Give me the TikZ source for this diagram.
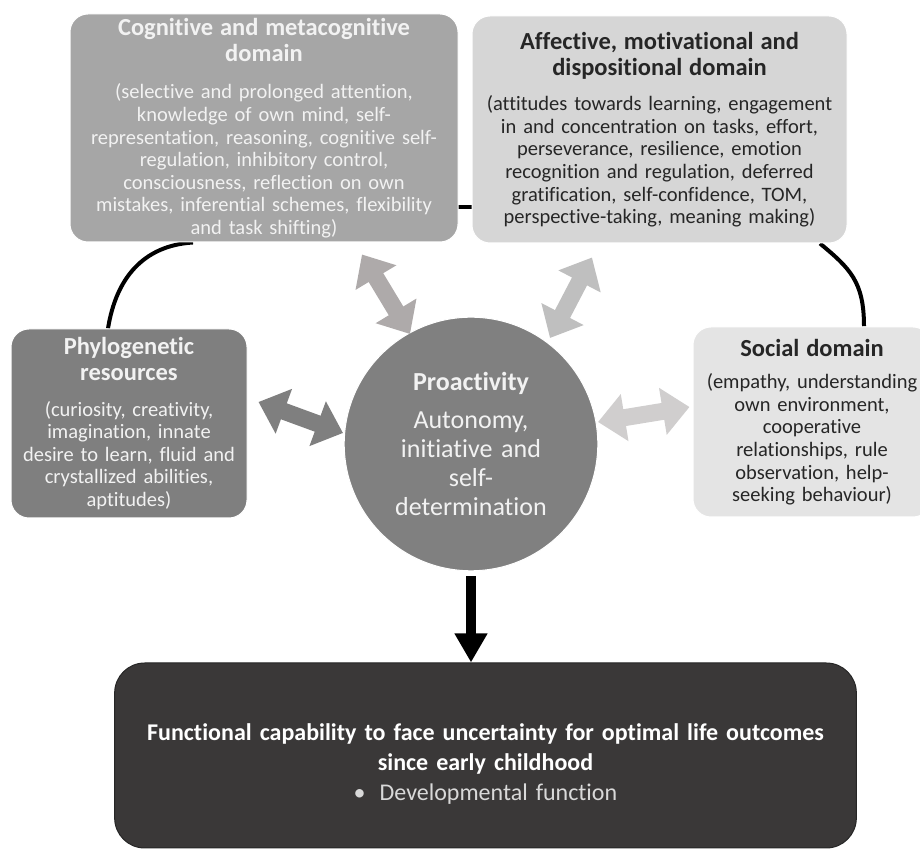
\documentclass[tikz,border=0pt]{standalone}
\usepackage{fontspec}
\setmainfont{Carlito}[Ligatures=NoCommon]
\usetikzlibrary{arrows.meta,calc,backgrounds}

\definecolor{cogfill}{HTML}{A6A6A6}
\definecolor{afffill}{HTML}{D6D6D6}
\definecolor{phylofill}{HTML}{7F7F7F}
\definecolor{socialfill}{HTML}{E4E4E4}
\definecolor{profill}{HTML}{808080}
\definecolor{outfill}{HTML}{3A3838}
\definecolor{arrowA}{HTML}{7F7F7F}
\definecolor{arrowB}{HTML}{AEAAAA}
\definecolor{arrowC}{HTML}{BFBFBF}
\definecolor{arrowD}{HTML}{D0CECE}

\newcommand{\hd}[2][13pt]{{\fontsize{24.5}{26}\selectfont\bfseries #2\par}\vspace{#1}}

\tikzset{
  domainbox/.style={rounded corners=18pt, draw=white, line width=1pt, align=center,
    inner sep=3pt, font=\fontsize{20.5}{22.6}\selectfont},
  ring/.style={line width=4pt},
  twoway/.style={line width=17pt, {Triangle[width=46pt,length=27pt]}-{Triangle[width=46pt,length=27pt]}}
}

\begin{document}
\begin{tikzpicture}[x=1pt,y=1pt]
\useasboundingbox (0,0) rectangle (920,850);

% domains
\node[domainbox, fill=cogfill, text=white!95!black, text width=382pt, minimum height=228pt] (cog) at (264,722)
  {\hd[15pt]{Cognitive and metacognitive\\ domain}(selective and prolonged attention,\\ knowledge of own mind, self-\\ representation, reasoning, cognitive self-\\ regulation, inhibitory control,\\ consciousness, reflection on own\\ mistakes, inferential schemes, flexibility\\ and task shifting)};
\node[domainbox, fill=afffill, text=black!85, text width=369pt, minimum height=227pt] (aff) at (659.5,720.5)
  {\hd{Affective, motivational and\\ dispositional domain}(attitudes towards learning, engagement\\ in and concentration on tasks, effort,\\ perseverance, resilience, emotion\\ recognition and regulation, deferred\\ gratification, self-confidence, TOM,\\ perspective-taking, meaning making)};
\node[domainbox, fill=phylofill, text=white!95!black, text width=230pt, minimum height=189pt] (phylo) at (129,426.5)
  {\hd{Phylogenetic\\ resources}(curiosity, creativity,\\ imagination, innate\\ desire to learn, fluid and\\ crystallized abilities,\\ aptitudes)};
\node[domainbox, fill=socialfill, text=black!85, text width=232pt, minimum height=190pt] (social) at (812,428)
  {\hd[10pt]{Social domain}(empathy, understanding\\ own environment,\\ cooperative\\ relationships, rule\\ observation, help-\\ seeking behaviour)};

% centre
\node[circle, fill=profill, draw=white, line width=1pt, minimum size=248pt, inner sep=0pt, text width=210pt,
  align=center, text=white!95!black, font=\fontsize{26}{29}\selectfont] (pro) at (471,406)
  {{\fontsize{26}{29}\selectfont\bfseries Proactivity\par}\vspace{9pt}Autonomy,\\ initiative and\\ self-\\ determination};

% outcome
\node[rounded corners=30pt, fill=outfill, draw=black!85, line width=1pt, text width=735pt, minimum height=185pt,
  align=center, text=white, font=\fontsize{24}{30}\selectfont] (outcome) at (485.5,94.5)
  {{\bfseries Functional capability to face uncertainty for optimal life outcomes\\ since early childhood\par}{\color{white!85!black}\textbullet\hspace{14pt}Developmental function}\par\vspace{-18pt}};

% two-way arrows
\draw[twoway, arrowA] ($(phylo.east)+(11,21.5)$) -- ($(pro.center)+(-128,11)$);
\draw[twoway, arrowB] ($(cog.south)+(98,-12)$) -- ($(pro.center)+(-61,110)$);
\draw[twoway, arrowC] ($(aff.south)+(-67.5,-14)$) -- ($(pro.center)+(79,106)$);
\draw[twoway, arrowD] ($(pro.center)+(127,22)$) -- ($(social.west)+(-3,15)$);

\draw[line width=10pt, -{Triangle[width=31pt,length=29pt]}, shorten <=5pt] (pro.south) -- (pro.south |- outcome.north);

% ring behind the domains
\begin{scope}[on background layer]
\draw[ring] ($(cog.south)+(-71,0)$) .. controls +(-50,-3) and +(8,50) .. ($(phylo.north)+(-21,0)$);
\draw[ring] ($(cog.south east)+(-5,35)$) -- ($(aff.south west)+(5,36)$);
\draw[ring] ($(aff.south)+(160.5,0)$) .. controls +(30,-25) and +(0,45) .. ($(social.north)+(52,0)$);
\end{scope}
\end{tikzpicture}
\end{document}
